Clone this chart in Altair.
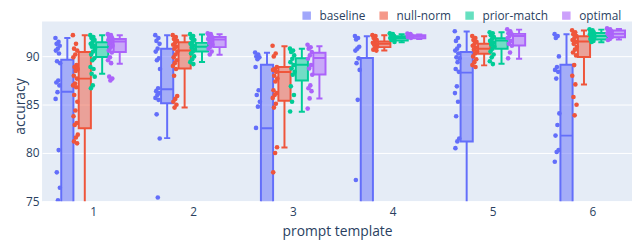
import altair as alt
import pandas as pd

templates = [1, 2, 3, 4, 5, 6]
methods = ["baseline", "null-norm", "prior-match", "optimal"]
line_colors = ["#636EFA", "#EF553B", "#00CC96", "#AB63FA"]

# box statistics per method, one value per template (values below 75 are off-axis)
box_lo = {
    "baseline":    [70.0, 81.54, 65.0, 60.0, 72.0, 68.0],
    "null-norm":   [72.0, 84.7, 80.57, 90.6, 89.07, 87.1],
    "prior-match": [88.2, 89.42, 84.28, 91.47, 89.24, 91.47],
    "optimal":     [89.25, 90.17, 85.65, 91.8, 89.76, 91.75],
}
box_q1 = {
    "baseline":    [72.0, 85.14, 70.0, 65.0, 81.2, 73.0],
    "null-norm":   [82.57, 88.74, 85.4, 90.96, 90.28, 89.93],
    "prior-match": [89.93, 90.5, 87.5, 91.64, 90.79, 91.75],
    "optimal":     [90.45, 90.96, 88.12, 91.88, 91.13, 91.99],
}
box_med = {
    "baseline":    [86.33, 86.6, 82.57, 72.0, 88.32, 81.8],
    "null-norm":   [87.7, 90.6, 88.39, 91.3, 90.79, 91.54],
    "prior-match": [90.96, 91.0, 89.14, 91.9, 91.64, 92.1],
    "optimal":     [91.54, 91.75, 89.83, 92.06, 92.1, 92.33],
}
box_q3 = {
    "baseline":    [89.66, 90.79, 89.14, 89.83, 90.45, 89.14],
    "null-norm":   [90.45, 91.47, 88.9, 91.54, 91.3, 92.09],
    "prior-match": [91.47, 91.4, 89.8, 92.09, 91.88, 92.43],
    "optimal":     [91.8, 92.0, 90.38, 92.2, 92.33, 92.67],
}
box_hi = {
    "baseline":    [91.9, 92.2, 90.38, 92.09, 92.57, 92.3],
    "null-norm":   [92.2, 92.16, 91.06, 92.2, 92.09, 92.67],
    "prior-match": [92.2, 92.26, 90.79, 92.3, 92.5, 92.77],
    "optimal":     [92.2, 92.3, 91.06, 92.26, 92.77, 92.84],
}

# individual accuracies per method, one list per template
points = {
    "baseline": [
        [91.9, 91.5, 91.3, 91.1, 90.8, 90.6, 90.3, 89.5, 89.3, 87.5, 87.3, 87.0, 86.3, 85.6, 80.3, 78.0, 76.4, 75.1],
        [92.2, 91.9, 91.6, 91.3, 90.8, 90.5, 89.8, 89.6, 88.7, 86.7, 86.4, 86.2, 86.0, 85.7, 85.5, 84.0, 81.5, 75.4],
        [90.4, 90.2, 90.0, 89.9, 89.7, 88.9, 86.5, 86.0, 85.3, 84.8, 82.6],
        [92.1, 91.9, 91.75, 91.0, 90.8, 90.6, 89.8, 89.3, 88.6, 85.5, 77.2],
        [92.6, 91.9, 91.6, 91.1, 90.8, 90.6, 90.3, 89.9, 89.8, 89.4, 88.7, 88.4, 86.9, 86.2, 85.3, 83.8, 81.5, 81.2, 80.5],
        [92.3, 92.1, 91.9, 90.0, 88.9, 88.6, 88.4, 87.7, 84.1, 82.9, 81.8, 80.3, 80.1, 79.1],
    ],
    "null-norm": [
        [92.2, 91.3, 90.8, 90.6, 90.2, 89.9, 89.1, 88.9, 88.7, 88.5, 88.0, 87.7, 87.2, 87.0, 86.8, 86.0, 85.3, 84.4, 83.8, 83.1, 82.9, 81.9, 81.6, 81.2, 81.0],
        [92.2, 92.0, 91.8, 91.6, 91.4, 91.2, 91.0, 90.8, 90.5, 90.2, 89.9, 89.6, 89.3, 89.0, 88.7, 88.0, 85.9, 85.6, 85.3, 85.0, 84.7],
        [91.1, 90.3, 90.0, 88.9, 88.7, 88.6, 88.4, 88.0, 87.7, 87.4, 86.5, 86.2, 86.0, 85.7, 85.1, 84.7, 80.6, 80.0, 78.0],
        [92.2, 92.1, 91.9, 91.7, 91.5, 91.4, 91.3, 91.2, 91.0, 90.9, 90.7, 90.6],
        [92.1, 91.9, 91.7, 91.5, 91.3, 91.1, 90.9, 90.7, 90.5, 90.3, 90.0, 89.7, 89.4, 89.1, 88.9],
        [92.7, 92.5, 92.3, 92.1, 91.9, 91.7, 91.5, 91.3, 91.0, 90.7, 90.4, 90.1, 89.1, 88.0, 87.1, 85.8, 85.0, 83.9],
    ],
    "prior-match": [
        [92.2, 92.0, 91.9, 91.7, 91.5, 91.3, 91.1, 91.0, 90.8, 90.5, 90.2, 89.8, 89.6, 88.9, 88.7, 88.2, 87.9, 87.0, 86.7],
        [92.3, 92.1, 91.9, 91.7, 91.5, 91.3, 91.1, 90.9, 90.7, 90.5, 90.3, 90.0, 89.7, 89.4, 89.2],
        [90.8, 90.6, 90.45, 90.1, 89.75, 89.4, 89.1, 88.75, 88.4, 88.1, 86.9, 86.0, 85.3, 84.3],
        [92.4, 92.3, 92.2, 92.1, 92.0, 91.9, 91.8, 91.7, 91.5],
        [92.5, 92.4, 92.2, 92.0, 91.8, 91.6, 91.4, 91.2, 91.0, 90.8, 90.5, 90.2, 89.9, 89.5, 89.2],
        [92.8, 92.7, 92.6, 92.5, 92.4, 92.3, 92.2, 92.1, 92.0, 91.9, 91.8, 91.6, 91.5],
    ],
    "optimal": [
        [92.3, 92.2, 92.0, 91.9, 91.8, 91.7, 91.5, 91.3, 91.1, 90.9, 90.6, 90.4, 89.9, 89.6, 89.3, 87.9, 87.7, 87.5],
        [92.4, 92.3, 92.2, 92.0, 91.9, 91.8, 91.6, 91.4, 91.2, 91.0, 90.8, 90.5, 90.2],
        [91.2, 90.95, 90.8, 90.45, 90.1, 89.75, 89.1, 88.75, 88.1, 87.0, 86.7, 86.4, 85.65, 84.6],
        [92.35, 92.3, 92.2, 92.15, 92.1, 92.0, 91.9],
        [92.8, 92.6, 92.4, 92.3, 92.1, 91.9, 91.6, 91.3, 91.1, 90.4, 89.8],
        [92.9, 92.8, 92.7, 92.6, 92.5, 92.4, 92.3, 92.2, 92.0, 91.8, 91.7],
    ],
}

# layout of grouped boxes (in category units)
group_offset = {"baseline": -0.259, "null-norm": -0.084, "prior-match": 0.090, "optimal": 0.266}
box_w = 0.122
cap_w = 0.061
pt_shift = -0.094
pt_jitter = 0.05

box_rows = []
for m in methods:
    for i, t in enumerate(templates):
        c = t + group_offset[m]
        box_rows.append(dict(method=m, template=t, pos=c,
                             x1=c - box_w / 2, x2=c + box_w / 2,
                             c1=c - cap_w / 2, c2=c + cap_w / 2,
                             lo=box_lo[m][i], q1=box_q1[m][i], med=box_med[m][i],
                             q3=box_q3[m][i], hi=box_hi[m][i]))
box_df = pd.DataFrame(box_rows)

pt_rows = []
for m in methods:
    for i, t in enumerate(templates):
        c = t + group_offset[m]
        for k, v in enumerate(points[m][i]):
            j = ((k * 0.6180339) % 1.0) - 0.5
            pt_rows.append(dict(method=m, template=t, value=v,
                                px=c + pt_shift + j * pt_jitter))
pt_df = pd.DataFrame(pt_rows)

TXT = "#2a3f5f"
xs = alt.Scale(domain=[0.488, 6.397], nice=False, zero=False)
ys = alt.Scale(domain=[75, 93.6], nice=False, zero=False)
cs = alt.Scale(domain=methods, range=line_colors)

xaxis = alt.Axis(values=templates, format="d", grid=False, ticks=False, domain=False,
                 labelPadding=5, labelFontSize=12, labelColor=TXT,
                 title="prompt template", titleFontSize=14, titleColor=TXT,
                 titleFontWeight="normal", titlePadding=8)
yaxis = alt.Axis(values=[75, 80, 85, 90], grid=True, gridColor="white", gridWidth=1,
                 ticks=False, domain=False, labelPadding=3, labelFontSize=12,
                 labelColor=TXT, title="accuracy", titleFontSize=14, titleColor=TXT,
                 titleFontWeight="normal", titleX=-15, titleY=85.5)

legend_main = alt.Legend(orient="none", direction="horizontal", legendX=262, legendY=-12.3,
                         symbolType="square", symbolSize=50, symbolStrokeWidth=1.5,
                         symbolOpacity=0.6,
                         labelFontSize=12, labelColor=TXT, labelOffset=7, columnPadding=11,
                         padding=0, title=None)

base_box = alt.Chart(box_df)
col = alt.Color("method:N", scale=cs, legend=None)

whisk_lo = base_box.mark_rule(clip=True, strokeWidth=2).encode(
    x=alt.X("pos:Q", scale=xs, axis=xaxis),
    y=alt.Y("lo:Q", scale=ys, axis=yaxis), y2="q1:Q", color=col)
whisk_hi = base_box.mark_rule(clip=True, strokeWidth=2).encode(
    x=alt.X("pos:Q", scale=xs), y=alt.Y("q3:Q", scale=ys), y2="hi:Q", color=col)
cap_lo = base_box.mark_rule(clip=True, strokeWidth=2).encode(
    x=alt.X("c1:Q", scale=xs), x2="c2:Q", y=alt.Y("lo:Q", scale=ys), color=col)
cap_hi = base_box.mark_rule(clip=True, strokeWidth=2).encode(
    x=alt.X("c1:Q", scale=xs), x2="c2:Q", y=alt.Y("hi:Q", scale=ys), color=col)
boxes = base_box.mark_bar(clip=True, strokeWidth=2, fillOpacity=0.5, strokeOpacity=1).encode(
    x=alt.X("x1:Q", scale=xs), x2="x2:Q",
    y=alt.Y("q1:Q", scale=ys), y2="q3:Q",
    color=alt.Color("method:N", scale=cs, legend=legend_main),
    stroke=alt.Stroke("method:N", scale=cs, legend=None))
medians = base_box.mark_rule(clip=True, strokeWidth=2).encode(
    x=alt.X("x1:Q", scale=xs), x2="x2:Q", y=alt.Y("med:Q", scale=ys), color=col)
dots = alt.Chart(pt_df).mark_circle(clip=True, size=22, opacity=1).encode(
    x=alt.X("px:Q", scale=xs), y=alt.Y("value:Q", scale=ys), color=col)

chart = alt.layer(boxes, whisk_lo, whisk_hi, cap_lo, cap_hi, medians, dots).properties(
    width=597.5, height=182,
    autosize=alt.AutoSizeParams(type="none"),
    padding={"left": 34.5, "top": 12.3, "right": 0, "bottom": 37.7},
    background="white",
).configure(font="Open Sans").configure_view(fill="#E5ECF6", strokeWidth=0)

chart.save("out.html", embed_options={"renderer": "svg", "actions": False})
